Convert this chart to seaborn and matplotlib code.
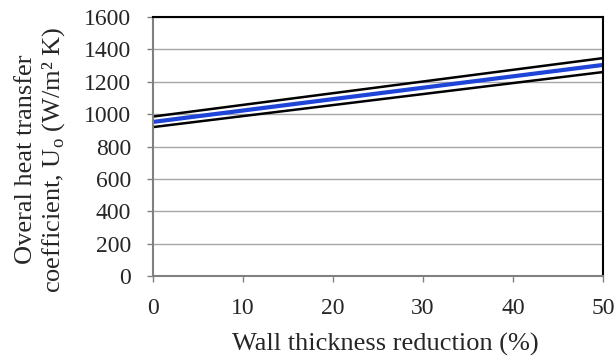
import matplotlib
matplotlib.use("Agg")
import matplotlib.pyplot as plt
import seaborn as sns
import pandas as pd

wall_reduction = [0, 50]
upper_bound = [985, 1346]
mean_value = [952, 1304]
lower_bound = [920, 1260]

sns.set_theme(style="white")
plt.rcParams['font.family'] = ['Liberation Serif', 'DejaVu Serif']
plt.rcParams['mathtext.fontset'] = 'custom'
plt.rcParams['mathtext.rm'] = 'Liberation Serif'

df = pd.DataFrame({
    "x": wall_reduction * 3,
    "y": upper_bound + mean_value + lower_bound,
    "series": ["upper"] * 2 + ["mean"] * 2 + ["lower"] * 2,
})

fig = plt.figure(figsize=(6.16, 3.61), dpi=100)
ax = fig.add_axes([0.248, 0.235, 0.731, 0.718])

for s in ["upper", "lower"]:
    sns.lineplot(data=df[df.series == s], x="x", y="y", ax=ax, color="black", lw=1.8, legend=False)
sns.lineplot(data=df[df.series == "mean"], x="x", y="y", ax=ax, color="#1f45d8", lw=3.0, legend=False)

ax.set_xlim(0, 50)
ax.set_ylim(0, 1600)
ax.set_xticks([0, 10, 20, 30, 40, 50])
ax.set_yticks(range(0, 1601, 200))
ax.yaxis.grid(True, color="#a6a6a6", lw=1.0)
ax.set_axisbelow(True)

for side in ["left", "bottom"]:
    ax.spines[side].set_color("#808080")
    ax.spines[side].set_linewidth(1.5)
for side in ["top", "right"]:
    ax.spines[side].set_color("black")
    ax.spines[side].set_linewidth(1.5)
    ax.spines[side].set_visible(True)

ax.tick_params(axis="both", which="both", direction="out", length=4.5, width=1, color="#808080",
               labelsize=17, left=True, bottom=True)
ax.tick_params(axis="y", pad=11)
ax.tick_params(axis="x", pad=11)

ax.set_xlabel("Wall thickness reduction (%)", fontsize=19)
ax.set_ylabel("Overal heat transfer\ncoefficient, U$_\\mathregular{o}$ (W/m² K)", fontsize=19,
              linespacing=1.15)
ax.xaxis.set_label_coords(0.516, -0.22)
ax.yaxis.set_label_coords(-0.19, 0.45)

fig.savefig("out.png", dpi=100)
